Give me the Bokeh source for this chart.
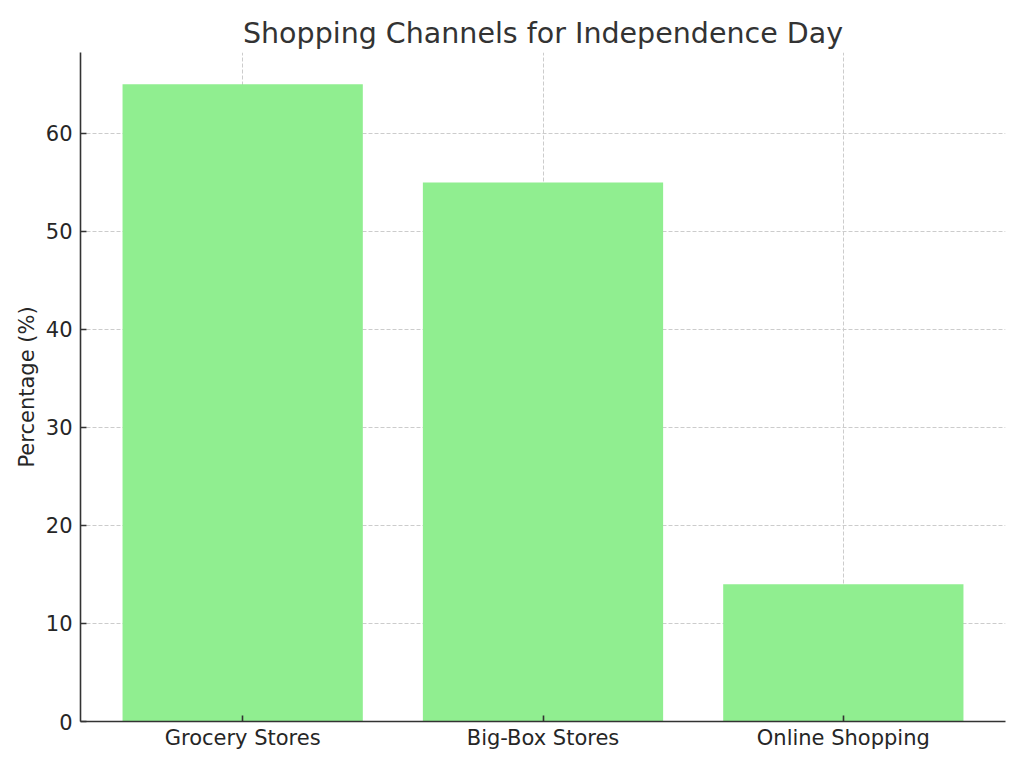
from bokeh.plotting import figure
from bokeh.models import ColumnDataSource, Range1d, FactorRange
from bokeh.embed import file_html
from bokeh.resources import INLINE

categories = ["Grocery Stores", "Big-Box Stores", "Online Shopping"]
percentages = [65, 55, 14]
y_ticks = [0, 10, 20, 30, 40, 50, 60]

source = ColumnDataSource(data=dict(cat=categories, pct=percentages))

p = figure(
    x_range=FactorRange(*categories, range_padding=0.04, range_padding_units="absolute"),
    y_range=Range1d(0, 68.25),
    frame_width=925, frame_height=669,
    min_border_left=80, min_border_right=3, min_border_top=52, min_border_bottom=31,
    output_backend="svg", toolbar_location=None,
    title="Shopping Channels for Independence Day",
)

p.vbar(x="cat", top="pct", width=0.8, source=source, fill_color="#90EE90", line_color=None)

p.title.align = "center"
p.title.text_font = "DejaVu Sans"
p.title.text_font_size = "28.5px"
p.title.text_font_style = "normal"
p.title.text_color = "#333333"
p.title.offset = 0
p.title.standoff = 6

p.outline_line_color = None
p.background_fill_color = "white"
p.border_fill_color = "white"

for ax in (p.xaxis[0], p.yaxis[0]):
    ax.axis_line_color = "#333333"
    ax.axis_line_width = 1.6
    ax.major_tick_line_color = "#333333"
    ax.major_tick_line_width = 1.6
    ax.major_tick_in = 6
    ax.major_tick_out = 0
    ax.minor_tick_line_color = None
    ax.major_label_text_font = "DejaVu Sans"
    ax.major_label_text_font_size = "21px"
    ax.major_label_text_color = "#262626"

p.xaxis.major_label_standoff = 4
p.yaxis.major_label_standoff = 8
p.yaxis.ticker = y_ticks
p.yaxis.axis_label = "Percentage (%)"
p.yaxis.axis_label_text_font = "DejaVu Sans"
p.yaxis.axis_label_text_font_size = "21px"
p.yaxis.axis_label_text_font_style = "normal"
p.yaxis.axis_label_text_color = "#262626"
p.yaxis.axis_label_standoff = 4

p.xgrid.grid_line_color = "#cccccc"
p.xgrid.grid_line_dash = "4 2"
p.xgrid.grid_line_width = 1
p.ygrid.grid_line_color = "#cccccc"
p.ygrid.grid_line_dash = "4 2"
p.ygrid.grid_line_width = 1

open("out.html", "w").write(file_html(p, INLINE))
